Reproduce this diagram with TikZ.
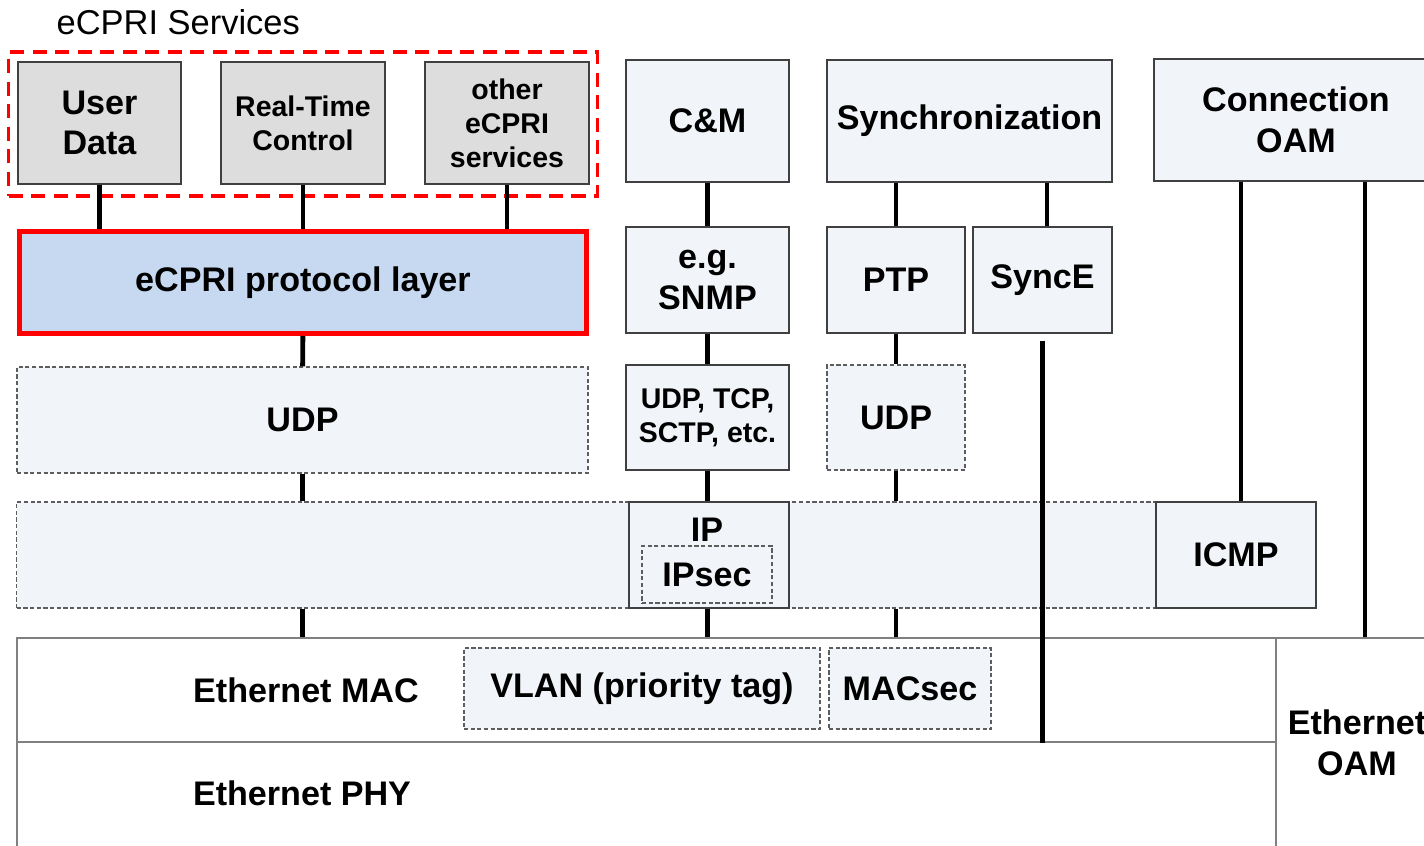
\documentclass[tikz,border=0pt]{standalone}
\usepackage{fontspec}
\setmainfont{Liberation Sans}
\usetikzlibrary{positioning}
\definecolor{svcgray}{HTML}{DDDDDD}
\definecolor{layerblue}{HTML}{C6D9F1}
\definecolor{boxfill}{HTML}{F1F4F9}
\definecolor{boxline}{HTML}{404040}
\definecolor{ethline}{HTML}{808080}
\newcommand{\lblfont}{\fontsize{9.7}{11.6}\selectfont\bfseries}
\newcommand{\lblsmall}{\fontsize{8.1}{9.7}\selectfont\bfseries}
\tikzstyle{service} = [rectangle, draw=boxline, fill=svcgray, line width=0.4pt, minimum width=1.63cm, minimum height=1.22cm, inner sep=0pt, align=center]
\tikzstyle{svcframe} = [rectangle, draw=red, line width=0.9pt, dash pattern=on 4pt off 2.4pt, minimum width=5.88cm, minimum height=1.44cm]
\tikzstyle{ecprilayer} = [rectangle, draw=red, fill=layerblue, line width=1.4pt, minimum width=5.67cm, minimum height=1.02cm, font=\lblfont]
\tikzstyle{proto} = [rectangle, draw=boxline, fill=boxfill, line width=0.4pt, inner sep=0pt, align=center, font=\lblfont]
\tikzstyle{optproto} = [proto, draw=boxline!85, dash pattern=on 1.2pt off 0.7pt]
\tikzstyle{ethlayer} = [rectangle, draw=ethline, fill=white, line width=0.5pt, inner sep=0pt, align=center, font=\lblfont]
\tikzstyle{link} = [line width=1.4pt]

\begin{document}
\begin{tikzpicture}[x=0.01cm, y=-0.01cm]
    \useasboundingbox (0,0) rectangle (1424,845);
    \clip (0,0) rectangle (1424,845);

    % eCPRI services
    \node [anchor=west, inner sep=0pt, font=\fontsize{9.8}{11.8}\selectfont] at (56,22) (svclabel) {eCPRI Services};
    \node [service, font=\lblfont] at (99.5,123) (userdata) {User\\Data};
    \node [service, font=\lblsmall, minimum width=1.64cm] at (303,123) (rtc) {Real-Time\\Control};
    \node [service, font=\lblsmall, minimum width=1.64cm] at (507,123) (other) {other\\eCPRI\\services};
    \node [svcframe] at (303,124) (svc) {};
    \node [ecprilayer] at (303,282.5) (ecpri) {eCPRI protocol layer};

    % C&M, sync, OAM planes
    \node [proto, minimum width=1.63cm, minimum height=1.22cm] at (707.5,121) (cm) {C\&M};
    \node [proto, minimum width=2.85cm, minimum height=1.22cm] at (969.5,121) (sync) {Synchronization};
    \node [proto, minimum width=2.84cm, minimum height=1.22cm] at (1296,120) (conoam) {Connection\\OAM};
    \node [proto, minimum width=1.63cm, minimum height=1.06cm] at (707.5,280) (snmp) {e.g.\\SNMP};
    \node [proto, minimum width=1.38cm, minimum height=1.06cm] at (896,280) (ptp) {PTP};
    \node [proto, minimum width=1.39cm, minimum height=1.06cm] at (1042.5,280) (synce) {SyncE};

    % transport
    \node [optproto, minimum width=5.71cm, minimum height=1.06cm] at (302.5,420) (udpa) {UDP};
    \node [proto, font=\lblsmall, minimum width=1.63cm, minimum height=1.05cm] at (707.5,417.5) (udptcp) {UDP, TCP,\\SCTP, etc.};
    \node [optproto, minimum width=1.38cm, minimum height=1.05cm] at (896,417.5) (udpb) {UDP};

    % IP layer
    \node [optproto, minimum width=11.38cm, minimum height=1.06cm] at (586,555) (iplayer) {};
    \node [proto, minimum width=1.6cm, minimum height=1.06cm] at (709,555) (ip) {};
    \node [font=\lblfont] at (707,530) (iptxt) {IP};
    \node [optproto, fill=none, minimum width=1.3cm, minimum height=0.57cm] at (707,574.5) (ipsec) {IPsec};
    \node [proto, minimum width=1.6cm, minimum height=1.06cm] at (1236,555) (icmp) {ICMP};

    % Ethernet
    \node [ethlayer, minimum width=12.59cm, minimum height=1.04cm] at (646.5,690) (mac) {};
    \node [ethlayer, minimum width=12.59cm, minimum height=1.06cm] at (646.5,795) (phy) {};
    \node [ethlayer, minimum width=1.62cm, minimum height=2.1cm] at (1357,743) (ethoam) {Ethernet\\OAM};
    \node [font=\lblfont] at (306,690) (mactxt) {Ethernet MAC};
    \node [font=\lblfont] at (302,793) (phytxt) {Ethernet PHY};
    \node [optproto, minimum width=3.56cm, minimum height=0.81cm] at (642,688.5) (vlan) {VLAN (priority tag)};
    \node [optproto, minimum width=1.62cm, minimum height=0.81cm] at (910,688.5) (macsec) {MACsec};

    % connectors
    \coordinate (synctap) at ([xshift=0.045cm]synce.north);
    \coordinate (icmptap) at ([xshift=0.05cm]icmp.north);
    \coordinate (oamtap) at ([xshift=0.08cm]ethoam.north);
    \draw [link] (userdata) -- (userdata |- ecpri.north);
    \draw [link] (rtc) -- (ecpri);
    \draw [link] (other) -- (other |- ecpri.north);
    \draw [link] (ecpri) -- (udpa);
    \draw [link] (udpa) -- (udpa |- iplayer.north);
    \draw [link] (udpa |- iplayer.south) -- (udpa |- mac.north);
    \draw [link] (cm) -- (snmp);
    \draw [link] (snmp) -- (udptcp);
    \draw [link] (udptcp.south) -- (udptcp.south |- ip.north);
    \draw [link] (udptcp.south |- ip.south) -- (udptcp.south |- mac.north);
    \draw [link] (ptp.north |- sync.south) -- (ptp);
    \draw [link] (ptp) -- (udpb);
    \draw [link] (udpb) -- (udpb |- iplayer.north);
    \draw [link] (udpb |- iplayer.south) -- (udpb |- mac.north);
    \draw [link] (synctap |- sync.south) -- (synctap);
    \draw [link] ([yshift=-0.07cm]synce.south) -- (synce.south |- mac.south);
    \draw [link] (icmptap |- conoam.south) -- (icmptap);
    \draw [link] (oamtap |- conoam.south) -- (oamtap);
\end{tikzpicture}
\end{document}
